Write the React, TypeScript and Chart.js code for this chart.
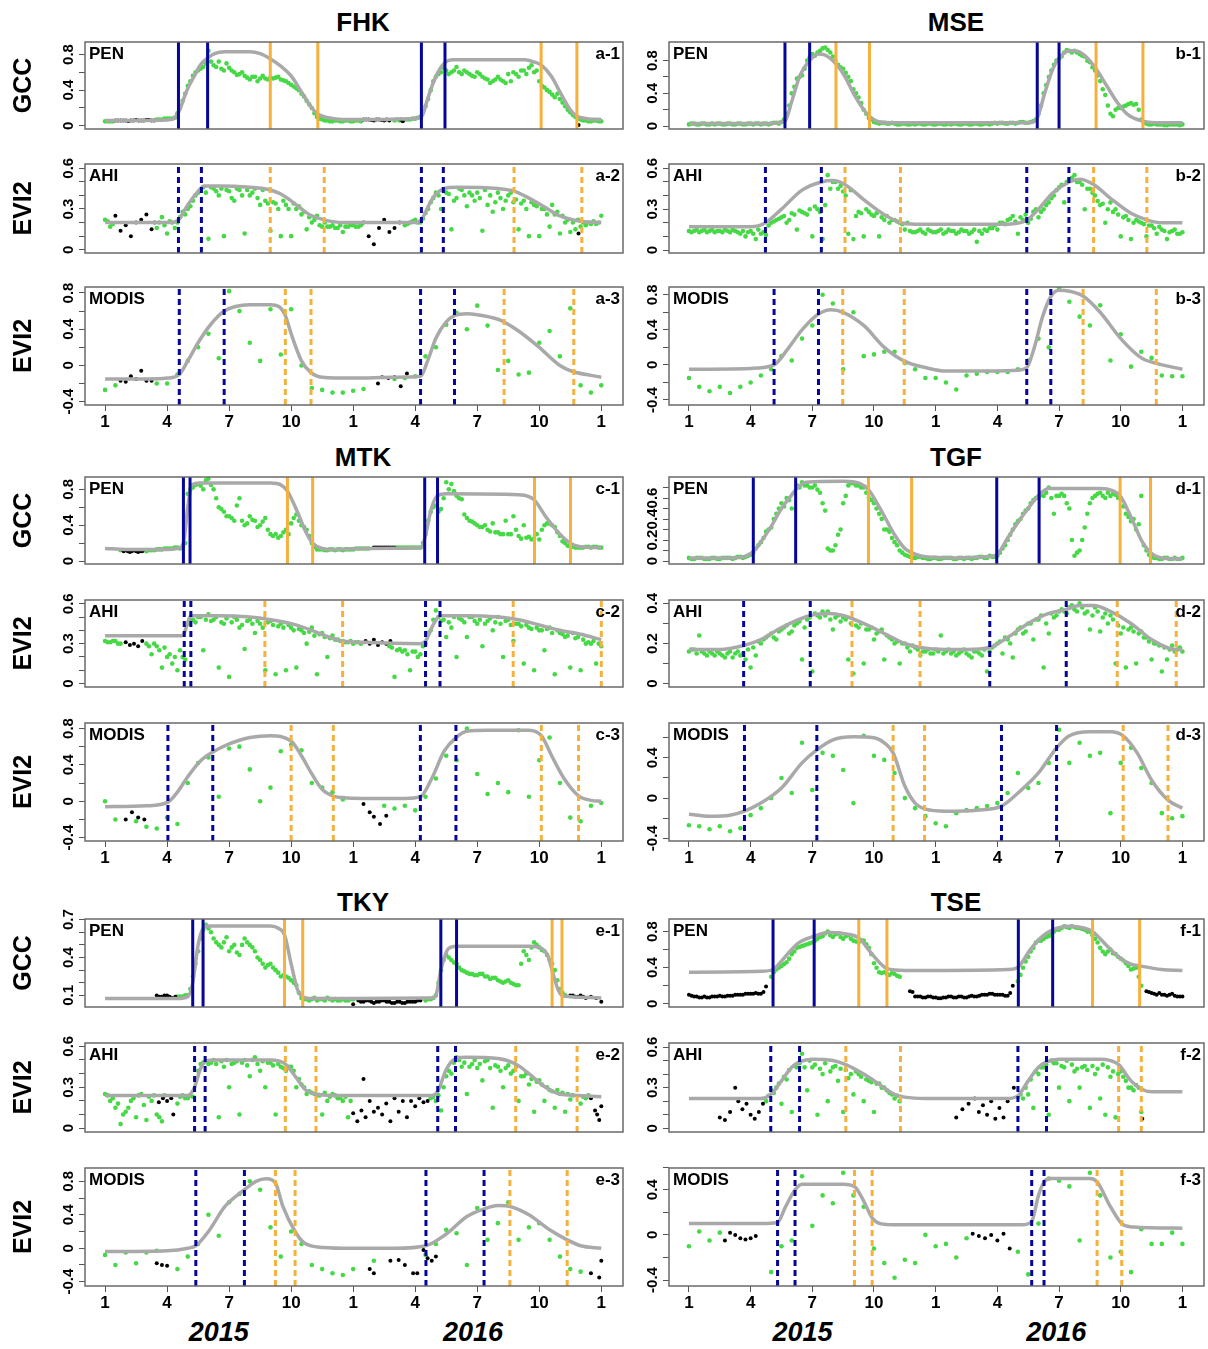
import React, { useEffect, useRef } from 'react';
import { Chart, registerables } from 'chart.js';

Chart.register(...registerables);

const FONT = '"Liberation Sans", Arial, Helvetica, sans-serif';
const GREEN = '#46d946';
const BLACK = '#000000';
const GRAY = '#a9a9a9';
const BLUE = '#06069a';
const ORANGE = '#f5b13b';

// ---------- shared axis values ----------
const X_MIN = 0.03;
const X_MAX = 26.05;
const X_TICK_VALUES = [1, 4, 7, 10, 13, 16, 19, 22, 25];
const X_TICK_LABELS = ['1', '4', '7', '10', '1', '4', '7', '10', '1'];
const YEARS = ['2015', '2016'];
const YEAR_MONTHS = [6.5, 18.8];
const GREEN_START = 1;
const STEP_DAILY = 0.25;
const STEP_MODIS = 0.5;
const MID_OFFSET = 0.125;

const GCC_TICKS = [0, 0.2, 0.4, 0.6, 0.8];
const GCC_LABELS = [0, 0.4, 0.8];
const AHI_TICKS = [0, 0.1, 0.2, 0.3, 0.4, 0.5, 0.6];
const AHI_LABELS = [0, 0.3, 0.6];
const MODIS_TICKS = [-0.4, -0.2, 0, 0.2, 0.4, 0.6, 0.8];
const MODIS_LABELS = [-0.4, 0, 0.4, 0.8];
const TGF_GCC_TICKS = [0, 0.1, 0.2, 0.3, 0.4, 0.5, 0.6, 0.7];
const TGF_GCC_LABELS = [0, 0.2, 0.4, 0.6];
const TGF_AHI_TICKS = [0, 0.1, 0.2, 0.3, 0.4];
const TGF_AHI_LABELS = [0, 0.2, 0.4];
const MODIS_SHORT_TICKS = [-0.4, -0.2, 0, 0.2, 0.4, 0.6];
const MODIS_SHORT_LABELS = [-0.4, 0, 0.4];
const TKY_GCC_TICKS = [0.1, 0.2, 0.3, 0.4, 0.5, 0.6, 0.7];
const TKY_GCC_LABELS = [0.1, 0.4, 0.7];

// ================= FHK =================
const FHK_PEN_CURVE_X = [1, 3, 4.2, 4.55, 4.8, 5.0, 5.3, 5.6, 5.96, 6.3, 6.8, 8.0, 8.5, 9.0, 9.5, 10.0, 10.5, 11.0, 11.3, 11.8, 12.5, 14, 15.8, 16.3, 16.6, 16.9, 17.2, 17.44, 17.8, 18.5, 21.3, 21.7, 22.1, 22.6, 23.0, 23.5, 23.8, 24.3, 25];
const FHK_PEN_CURVE_Y = [0.06, 0.06, 0.07, 0.15, 0.3, 0.42, 0.55, 0.68, 0.76, 0.81, 0.83, 0.83, 0.81, 0.75, 0.67, 0.56, 0.38, 0.2, 0.13, 0.09, 0.07, 0.07, 0.08, 0.1, 0.3, 0.5, 0.64, 0.71, 0.74, 0.74, 0.74, 0.72, 0.68, 0.55, 0.38, 0.18, 0.11, 0.08, 0.07];
const FHK_PEN_GREEN = [
  0.05, 0.05, null, null, null, null, null, null, null, null, 0.07, 0.07,
  0.08, 0.08, 0.14, 0.28, 0.45, 0.56, 0.62, 0.66, 0.84, 0.68, 0.72, 0.62,
  0.65, 0.6, 0.58, 0.56, 0.52, 0.55, 0.53, 0.53, 0.54, 0.54, 0.52, 0.5,
  0.46, 0.42, 0.36, 0.28, 0.2, 0.1, 0.07, 0.06, 0.05, 0.06, 0.05, 0.06,
  0.05, 0.06, null, null, null, null, null, null, 0.06, 0.06, 0.07, 0.07,
  0.08, 0.1, 0.22, 0.4, 0.55, 0.6, 0.62, 0.6, 0.66, 0.58, 0.6, 0.56,
  0.6, 0.55, 0.52, 0.5, 0.55, 0.5, 0.58, 0.6, 0.55, 0.62, 0.65, 0.6,
  0.5, 0.43, 0.38, 0.32, 0.3, 0.22, 0.15, 0.1, 0.07, 0.06, 0.05, 0.06,
  0.05];
const FHK_PEN_MID = [
  0.05, 0.05, null, null, null, null, null, null, null, null, 0.07, 0.08,
  0.08, 0.09, 0.2, 0.36, 0.5, 0.6, 0.64, 0.7, 0.72, 0.66, 0.64, 0.7,
  0.62, 0.57, 0.6, 0.54, 0.55, 0.5, 0.56, 0.52, 0.53, 0.55, 0.51, 0.48,
  0.44, 0.4, 0.33, 0.24, 0.14, 0.08, 0.06, 0.05, 0.06, 0.05, 0.06, 0.05,
  0.06, 0.05, null, null, null, null, null, null, 0.07, 0.06, 0.07, 0.08,
  0.09, 0.15, 0.3, 0.5, 0.58, 0.65, 0.58, 0.62, 0.6, 0.62, 0.58, 0.55,
  0.58, 0.53, 0.48, 0.52, 0.52, 0.48, 0.5, 0.58, 0.62, 0.58, 0.68, 0.62,
  0.45, 0.4, 0.35, 0.36, 0.26, 0.18, 0.12, 0.08, 0.06, 0.05, 0.06, 0.05];
const FHK_PEN_BLACK = [[1.5, 0.06], [1.625, 0.06], [1.75, 0.06], [1.875, 0.06], [2, 0.06], [2.125, 0.055], [2.25, 0.06], [2.375, 0.06], [2.5, 0.065], [2.625, 0.06], [2.75, 0.06], [2.875, 0.06], [3, 0.065], [3.125, 0.065], [3.25, 0.06], [3.375, 0.06], [13.5, 0.07], [13.625, 0.07], [13.75, 0.07], [13.875, 0.065], [14, 0.06], [14.125, 0.07], [14.25, 0.07], [14.375, 0.065], [14.5, 0.06], [14.625, 0.07], [14.75, 0.06], [15.3, 0.07], [15.4, 0.05], [23.9, 0.01]];
const FHK_PEN_BLUE = [4.55, 5.96, 16.3, 17.44];
const FHK_PEN_ORANGE = [8.99, 11.29, 22.09, 23.82];

const FHK_AHI_CURVE_X = [1, 4.2, 4.55, 5.0, 5.5, 5.8, 6.5, 8.0, 9.0, 9.5, 10.0, 10.5, 11.0, 11.6, 12.5, 16.0, 16.3, 16.7, 17.0, 17.4, 18.0, 20.0, 20.8, 21.5, 22.3, 23.0, 24.0, 25];
const FHK_AHI_CURVE_Y = [0.2, 0.2, 0.22, 0.33, 0.43, 0.47, 0.47, 0.46, 0.44, 0.41, 0.36, 0.3, 0.25, 0.22, 0.2, 0.2, 0.22, 0.34, 0.41, 0.45, 0.46, 0.45, 0.43, 0.38, 0.31, 0.25, 0.21, 0.2];
const FHK_AHI_GREEN = [
  0.22, 0.17, null, null, null, null, null, null, null, null, 0.16, 0.24,
  0.12, 0.2, 0.2, 0.28, 0.3, 0.36, 0.42, 0.46, 0.08, 0.45, 0.4, 0.1,
  0.43, 0.36, 0.44, 0.12, 0.4, 0.45, 0.33, 0.36, 0.14, 0.34, 0.1, 0.33,
  0.1, 0.3, 0.26, 0.15, 0.2, 0.25, 0.17, 0.17, 0.18, 0.16, 0.13, 0.17,
  0.18, 0.17, null, null, null, null, null, null, null, null, 0.18, 0.2,
  0.22, 0.2, 0.27, 0.35, 0.42, 0.3, 0.42, 0.15, 0.38, 0.44, 0.32, 0.4,
  0.42, 0.14, 0.33, 0.28, 0.42, 0.3, 0.4, 0.35, 0.15, 0.36, 0.1, 0.33,
  0.1, 0.3, 0.17, 0.26, 0.12, 0.2, 0.13, 0.15, 0.17, 0.18, 0.19, 0.19,
  0.25];
const FHK_AHI_MID = [
  0.21, 0.19, null, null, null, null, null, null, null, null, 0.2, 0.18,
  0.21, 0.16, 0.24, 0.26, 0.32, 0.4, 0.44, 0.42, 0.46, 0.43, 0.45, 0.44,
  0.38, 0.45, 0.4, 0.44, 0.42, 0.38, 0.44, 0.34, 0.35, 0.3, 0.36, 0.3,
  0.34, 0.32, 0.28, 0.24, 0.22, 0.18, 0.2, 0.17, 0.16, 0.18, 0.17, 0.18,
  0.17, 0.18, null, null, null, null, null, null, null, null, 0.19, 0.21,
  0.2, 0.23, 0.3, 0.38, 0.4, 0.44, 0.41, 0.36, 0.45, 0.4, 0.42, 0.36,
  0.38, 0.44, 0.4, 0.35, 0.38, 0.36, 0.42, 0.37, 0.34, 0.3, 0.35, 0.32,
  0.3, 0.26, 0.33, 0.28, 0.25, 0.22, 0.2, 0.22, 0.2, 0.2, 0.21, 0.2];
const FHK_AHI_BLACK = [[1.5, 0.25], [1.75, 0.14], [2, 0.18], [2.25, 0.1], [2.5, 0.2], [2.75, 0.22], [3, 0.26], [3.25, 0.15], [3.4, 0.2], [13.5, 0.2], [13.75, 0.1], [14, 0.04], [14.25, 0.16], [14.5, 0.22], [14.75, 0.13], [15, 0.16], [15.25, 0.2], [23.9, 0.12]];
const FHK_AHI_BLUE = [4.55, 5.66, 16.3, 17.36];
const FHK_AHI_ORANGE = [8.99, 11.6, 20.78, 24.06];

const FHK_MODIS_CURVE_X = [1, 3, 4.0, 4.59, 5.0, 5.5, 6.0, 6.5, 6.76, 7.3, 8.0, 9.0, 9.4, 9.72, 10.0, 10.5, 10.96, 11.5, 13, 15, 16.26, 16.6, 17.0, 17.5, 17.9, 18.5, 19, 20, 20.3, 21, 22, 23, 23.67, 24.5, 25];
const FHK_MODIS_CURVE_Y = [-0.15, -0.15, -0.14, -0.1, 0.05, 0.25, 0.42, 0.55, 0.6, 0.65, 0.67, 0.67, 0.65, 0.55, 0.35, 0.05, -0.08, -0.13, -0.14, -0.13, -0.12, 0.05, 0.3, 0.48, 0.55, 0.57, 0.56, 0.51, 0.48, 0.38, 0.2, 0.0, -0.07, -0.11, -0.13];
const FHK_MODIS_GREEN = [-0.27, -0.22, null, null, null, -0.2, -0.2, -0.1, 0.05, 0.2, 0.35, 0.08, 0.82, 0.6, 0.25, 0.05, 0.62, 0.12, 0.62, 0.0, -0.25, -0.27, -0.3, -0.3, -0.28, -0.26, null, null, -0.15, -0.14, -0.12, 0.1, 0.2, 0.45, 0.58, 0.4, 0.66, 0.44, -0.05, 0.05, -0.1, -0.08, 0.25, 0.38, 0.1, 0.63, -0.22, -0.3, -0.22];
const FHK_MODIS_BLACK = [[1.75, -0.17], [2, -0.18], [2.25, -0.12], [2.5, -0.15], [2.75, -0.06], [3, -0.17], [3.25, -0.17], [14.2, -0.2], [14.4, -0.13], [14.7, -0.14], [15, -0.13], [15.3, -0.23], [15.6, -0.09]];
const FHK_MODIS_BLUE = [4.59, 6.76, 16.26, 17.9];
const FHK_MODIS_ORANGE = [9.72, 10.96, 20.3, 23.67];

// ================= MSE =================
const MSE_PEN_CURVE_X = [1, 5.0, 5.5, 5.67, 6.0, 6.4, 6.87, 7.3, 7.6, 8.15, 8.6, 9.0, 9.5, 9.78, 10.3, 11, 17.5, 17.94, 18.3, 18.7, 19.0, 19.5, 19.8, 20.3, 20.8, 21.3, 21.8, 22.3, 23.08, 24, 25];
const MSE_PEN_CURVE_Y = [0.03, 0.03, 0.05, 0.06, 0.3, 0.62, 0.8, 0.88, 0.87, 0.76, 0.6, 0.4, 0.2, 0.12, 0.05, 0.04, 0.04, 0.1, 0.4, 0.7, 0.83, 0.92, 0.92, 0.85, 0.7, 0.5, 0.3, 0.15, 0.06, 0.04, 0.04];
const MSE_PEN_GREEN = [
  0.02, 0.03, 0.02, 0.03, 0.02, 0.02, 0.03, 0.02, 0.03, 0.02, 0.03, 0.02,
  0.03, 0.03, 0.02, 0.03, 0.03, 0.04, 0.05, 0.15, 0.4, 0.58, 0.62, 0.8,
  0.88, 0.9, 0.95, 0.93, 0.85, 0.75, 0.7, 0.6, 0.45, 0.35, 0.2, 0.1,
  0.05, 0.03, 0.04, 0.03, 0.03, 0.02, 0.03, 0.02, 0.02, 0.03, 0.02, 0.03,
  0.02, 0.03, 0.02, 0.02, 0.03, 0.02, 0.03, 0.02, 0.03, 0.02, 0.03, 0.03,
  0.03, 0.04, 0.03, 0.04, 0.04, 0.05, 0.04, 0.06, 0.15, 0.4, 0.6, 0.75,
  0.82, 0.9, 0.92, 0.92, 0.88, 0.85, 0.78, 0.68, 0.55, 0.38, 0.15, 0.2,
  0.22, 0.25, 0.28, 0.27, 0.08, 0.03, 0.02, 0.02, 0.02, 0.01, 0.02, 0.02,
  0.02];
const MSE_PEN_MID = [
  0.03, 0.02, 0.03, 0.02, 0.03, 0.03, 0.02, 0.03, 0.02, 0.03, 0.02, 0.03,
  0.02, 0.03, 0.03, 0.02, 0.04, 0.03, 0.08, 0.25, 0.48, 0.6, 0.7, 0.84,
  0.86, 0.92, 0.96, 0.9, 0.8, 0.72, 0.65, 0.55, 0.4, 0.28, 0.15, 0.08,
  0.04, 0.04, 0.03, 0.04, 0.02, 0.03, 0.02, 0.03, 0.03, 0.02, 0.03, 0.02,
  0.03, 0.02, 0.03, 0.03, 0.02, 0.03, 0.02, 0.03, 0.02, 0.03, 0.02, 0.04,
  0.04, 0.03, 0.04, 0.03, 0.05, 0.04, 0.05, 0.08, 0.25, 0.5, 0.68, 0.8,
  0.85, 0.93, 0.9, 0.9, 0.86, 0.8, 0.72, 0.62, 0.45, 0.25, 0.12, 0.22,
  0.24, 0.27, 0.26, 0.2, 0.04, 0.02, 0.03, 0.02, 0.01, 0.02, 0.02, 0.01];
const MSE_PEN_BLACK = [];
const MSE_PEN_BLUE = [5.67, 6.87, 17.94, 19.0];
const MSE_PEN_ORANGE = [8.15, 9.78, 20.8, 23.08];

const MSE_AHI_CURVE_X = [1, 4.0, 4.72, 5.5, 6.5, 7.44, 8.0, 8.6, 9.5, 10.5, 11.3, 12.0, 16.5, 17.43, 18.0, 18.7, 19.5, 20.0, 20.7, 21.5, 22.5, 23.3, 24, 25];
const MSE_AHI_CURVE_Y = [0.17, 0.17, 0.2, 0.3, 0.44, 0.5, 0.51, 0.48, 0.37, 0.26, 0.2, 0.19, 0.19, 0.22, 0.3, 0.42, 0.5, 0.52, 0.48, 0.38, 0.27, 0.22, 0.2, 0.2];
const MSE_AHI_GREEN = [
  0.14, 0.14, 0.13, 0.15, 0.14, 0.13, 0.14, 0.15, 0.13, 0.14, 0.12, 0.1,
  0.14, 0.08, 0.12, 0.11, 0.2, 0.22, 0.24, 0.2, 0.27, 0.15, 0.28, 0.26,
  0.1, 0.3, 0.08, 0.55, 0.5, 0.45, 0.43, 0.12, 0.08, 0.28, 0.1, 0.28,
  0.25, 0.1, 0.22, 0.2, 0.22, 0.2, 0.15, 0.14, 0.13, 0.15, 0.12, 0.14,
  0.13, 0.15, 0.13, 0.14, 0.12, 0.15, 0.14, 0.13, 0.06, 0.12, 0.14, 0.16,
  0.15, 0.2, 0.22, 0.25, 0.12, 0.22, 0.2, 0.28, 0.24, 0.3, 0.35, 0.4,
  0.46, 0.35, 0.52, 0.55, 0.5, 0.3, 0.45, 0.4, 0.33, 0.2, 0.35, 0.3,
  0.1, 0.25, 0.08, 0.22, 0.2, 0.1, 0.18, 0.12, 0.15, 0.08, 0.14, 0.12,
  0.13];
const MSE_AHI_MID = [
  0.13, 0.15, 0.14, 0.13, 0.15, 0.14, 0.13, 0.14, 0.15, 0.13, 0.14, 0.13,
  0.12, 0.15, 0.13, 0.18, 0.21, 0.23, 0.25, 0.22, 0.26, 0.29, 0.27, 0.3,
  0.32, 0.28, 0.33, 0.45, 0.5, 0.47, 0.4, 0.44, 0.25, 0.27, 0.3, 0.26,
  0.27, 0.24, 0.25, 0.22, 0.21, 0.19, 0.2, 0.13, 0.14, 0.13, 0.15, 0.13,
  0.14, 0.12, 0.15, 0.14, 0.13, 0.14, 0.12, 0.15, 0.14, 0.15, 0.16, 0.18,
  0.2, 0.19, 0.23, 0.21, 0.24, 0.26, 0.23, 0.3, 0.28, 0.33, 0.38, 0.44,
  0.48, 0.5, 0.53, 0.5, 0.48, 0.45, 0.42, 0.36, 0.34, 0.3, 0.28, 0.26,
  0.24, 0.22, 0.2, 0.21, 0.19, 0.18, 0.16, 0.17, 0.14, 0.13, 0.15, 0.12];
const MSE_AHI_BLACK = [];
const MSE_AHI_BLUE = [4.72, 7.44, 17.43, 19.48];
const MSE_AHI_ORANGE = [8.59, 11.29, 20.68, 23.27];

const MSE_MODIS_CURVE_X = [1, 4.0, 5.14, 5.8, 6.5, 7.3, 7.9, 8.5, 9.5, 10.5, 11.5, 12.5, 13.5, 15, 17, 17.43, 17.8, 18.2, 18.6, 19.0, 19.5, 20.2, 21.0, 22.0, 23.0, 23.7, 25];
const MSE_MODIS_CURVE_Y = [-0.05, -0.04, 0.0, 0.18, 0.4, 0.58, 0.63, 0.6, 0.45, 0.2, 0.04, -0.03, -0.07, -0.07, -0.06, -0.03, 0.2, 0.55, 0.78, 0.85, 0.84, 0.78, 0.6, 0.3, 0.08, 0.02, -0.05];
const MSE_MODIS_GREEN = [-0.15, -0.25, -0.3, -0.25, -0.32, -0.25, -0.2, -0.12, -0.05, 0.1, 0.05, 0.3, 0.45, 0.8, 0.7, -0.05, 0.6, 0.1, 0.12, 0.15, 0.15, 0.02, -0.05, -0.15, -0.15, -0.2, -0.28, -0.12, -0.1, -0.08, -0.08, -0.08, -0.05, 0.05, 0.3, 0.2, 0.88, 0.72, 0.55, 0.45, 0.68, 0.05, 0.35, -0.02, 0.15, 0.08, -0.12, -0.13, -0.13];
const MSE_MODIS_BLACK = [];
const MSE_MODIS_BLUE = [5.14, 7.3, 17.43, 18.6];
const MSE_MODIS_ORANGE = [8.48, 11.47, 20.17, 23.73];

// ================= MTK =================
const MTK_PEN_CURVE_X = [1, 2, 4.0, 4.5, 4.79, 5.0, 5.2, 5.6, 9.0, 9.5, 9.82, 10.3, 10.7, 11.04, 11.5, 12, 13.5, 16.3, 16.46, 16.8, 17.08, 17.5, 21, 21.5, 21.77, 22.3, 23.0, 23.5, 24, 25];
const MTK_PEN_CURVE_Y = [0.14, 0.13, 0.13, 0.14, 0.2, 0.6, 0.85, 0.87, 0.87, 0.85, 0.78, 0.55, 0.33, 0.2, 0.14, 0.13, 0.14, 0.15, 0.25, 0.6, 0.73, 0.75, 0.74, 0.72, 0.68, 0.5, 0.3, 0.2, 0.16, 0.15];
const MTK_PEN_GREEN = [
  null, null, null, 0.12, null, null, null, null, 0.11, 0.12, 0.13, 0.13,
  0.14, 0.14, 0.15, 0.15, 0.75, 0.82, 0.86, 0.8, 0.92, 0.8, 0.6, 0.55,
  0.5, 0.45, 0.7, 0.4, 0.5, 0.45, 0.4, 0.48, 0.3, 0.3, 0.28, 0.35,
  0.42, 0.52, 0.4, 0.35, 0.2, 0.13, 0.13, 0.12, 0.13, 0.13, 0.12, 0.13,
  0.13, 0.14, 0.14, 0.14, null, null, null, null, null, 0.15, 0.15, 0.15,
  0.15, 0.15, 0.3, 0.55, 0.62, 0.58, 0.88, 0.86, 0.73, 0.69, 0.48, 0.44,
  0.4, 0.38, 0.35, 0.42, 0.32, 0.3, 0.3, 0.5, 0.28, 0.4, 0.27, 0.25,
  0.24, 0.4, 0.42, 0.38, 0.28, 0.2, 0.16, 0.15, 0.15, 0.16, 0.15, 0.16,
  0.15];
const MTK_PEN_MID = [
  null, null, null, null, null, null, null, null, 0.12, 0.12, 0.13, 0.14,
  0.14, 0.15, 0.14, 0.2, 0.8, 0.85, 0.84, 0.9, 0.85, 0.7, 0.58, 0.5,
  0.48, 0.62, 0.45, 0.42, 0.46, 0.38, 0.44, 0.35, 0.28, 0.26, 0.32, 0.3,
  0.48, 0.45, 0.38, 0.28, 0.16, 0.13, 0.12, 0.13, 0.12, 0.13, 0.13, 0.13,
  0.14, 0.14, 0.14, null, null, null, null, null, 0.15, 0.15, 0.15, 0.15,
  0.15, 0.2, 0.45, 0.6, 0.55, 0.7, 0.8, 0.78, 0.7, 0.52, 0.45, 0.42,
  0.38, 0.4, 0.33, 0.32, 0.3, 0.45, 0.3, 0.35, 0.25, 0.26, 0.24, 0.3,
  0.35, 0.42, 0.4, 0.32, 0.22, 0.17, 0.16, 0.15, 0.15, 0.16, 0.16, 0.15];
const MTK_PEN_BLACK = [[1.9, 0.11], [2.0, 0.12], [2.1, 0.11], [2.2, 0.1], [2.3, 0.11], [2.4, 0.12], [2.5, 0.11], [2.6, 0.1], [2.7, 0.11], [2.8, 0.11], [14.0, 0.15], [14.1, 0.15], [14.2, 0.15], [14.3, 0.15], [14.4, 0.15], [14.5, 0.15], [14.6, 0.15], [14.7, 0.15], [14.8, 0.15], [14.9, 0.15], [15.0, 0.15]];
const MTK_PEN_BLUE = [4.79, 5.11, 16.46, 17.08];
const MTK_PEN_ORANGE = [9.82, 11.04, 21.77, 23.51];

const MTK_AHI_CURVE_X = [1, 4.7, 4.83, 5.0, 5.15, 6.5, 8.0, 9.0, 10.0, 11.0, 12.0, 12.5, 13.5, 16.2, 16.5, 16.9, 17.2, 18.5, 20.0, 21.0, 22.0, 23.0, 24.0, 25.0];
const MTK_AHI_CURVE_Y = [0.36, 0.36, 0.38, 0.46, 0.51, 0.51, 0.5, 0.48, 0.45, 0.4, 0.34, 0.32, 0.31, 0.3, 0.32, 0.45, 0.51, 0.51, 0.5, 0.48, 0.44, 0.4, 0.37, 0.33];
const MTK_AHI_GREEN = [
  0.32, 0.31, 0.32, 0.3, null, null, null, null, 0.3, 0.22, 0.28, 0.12,
  0.2, 0.15, 0.1, 0.2, 0.45, 0.48, 0.5, 0.25, 0.52, 0.48, 0.12, 0.45,
  0.05, 0.5, 0.42, 0.26, 0.48, 0.38, 0.45, 0.1, 0.47, 0.07, 0.45, 0.1,
  0.42, 0.12, 0.4, 0.3, 0.42, 0.07, 0.38, 0.2, 0.36, 0.33, 0.32, 0.31,
  0.3, 0.31, null, null, null, null, null, 0.28, 0.05, 0.26, 0.25, 0.1,
  0.24, 0.22, 0.3, 0.4, 0.55, 0.47, 0.35, 0.42, 0.2, 0.48, 0.35, 0.5,
  0.45, 0.28, 0.47, 0.4, 0.5, 0.2, 0.48, 0.32, 0.45, 0.15, 0.42, 0.1,
  0.4, 0.25, 0.42, 0.07, 0.38, 0.35, 0.12, 0.34, 0.1, 0.3, 0.3, 0.15,
  0.28];
const MTK_AHI_MID = [
  0.31, 0.32, 0.3, null, null, null, null, null, 0.28, 0.3, 0.25, 0.27,
  0.22, 0.2, 0.25, 0.18, 0.48, 0.46, 0.5, 0.48, 0.47, 0.5, 0.46, 0.49,
  0.46, 0.48, 0.44, 0.47, 0.45, 0.47, 0.42, 0.46, 0.44, 0.43, 0.42, 0.44,
  0.4, 0.41, 0.38, 0.39, 0.36, 0.37, 0.35, 0.34, 0.33, 0.32, 0.31, 0.32,
  0.31, 0.3, null, null, null, null, null, 0.27, 0.25, 0.24, 0.22, 0.24,
  0.2, 0.28, 0.38, 0.48, 0.5, 0.48, 0.46, 0.5, 0.49, 0.46, 0.5, 0.47,
  0.48, 0.45, 0.49, 0.46, 0.45, 0.47, 0.44, 0.45, 0.43, 0.44, 0.41, 0.42,
  0.4, 0.41, 0.38, 0.4, 0.37, 0.36, 0.38, 0.35, 0.33, 0.31, 0.32, 0.3];
const MTK_AHI_BLACK = [[2, 0.31], [2.2, 0.29], [2.4, 0.3], [2.6, 0.28], [2.8, 0.32], [13.6, 0.32], [13.8, 0.3], [14, 0.33], [14.2, 0.29], [14.4, 0.31], [14.6, 0.3], [14.8, 0.32]];
const MTK_AHI_BLUE = [4.83, 5.15, 16.5, 17.2];
const MTK_AHI_ORANGE = [8.73, 12.49, 20.74, 25.0];

const MTK_MODIS_CURVE_X = [1, 3.0, 4.04, 4.5, 5.0, 5.6, 6.21, 7.0, 7.5, 8.0, 9.0, 10.0, 10.5, 11.0, 11.5, 12.0, 12.5, 13.5, 15.5, 16.25, 16.8, 17.4, 17.97, 18.5, 19.5, 21.5, 22.1, 22.6, 23.2, 23.9, 24.5, 25];
const MTK_MODIS_CURVE_Y = [-0.06, -0.05, -0.01, 0.1, 0.27, 0.44, 0.54, 0.63, 0.67, 0.7, 0.72, 0.66, 0.5, 0.3, 0.13, 0.06, 0.04, 0.03, 0.03, 0.05, 0.25, 0.55, 0.7, 0.77, 0.78, 0.78, 0.72, 0.5, 0.25, 0.06, 0.01, 0.0];
const MTK_MODIS_GREEN = [0.0, -0.2, null, -0.22, -0.28, -0.3, -0.18, -0.25, 0.2, 0.42, 0.48, 0.05, 0.58, 0.6, 0.35, 0.0, 0.15, 0.55, 0.62, 0.56, 0.2, 0.15, 0.1, 0.02, null, null, null, -0.05, -0.08, -0.05, -0.1, 0.05, 0.25, 0.5, 0.45, 0.8, 0.3, 0.08, 0.2, 0.1, 0.78, 0.05, 0.45, 0.7, 0.2, -0.18, -0.22, -0.05, -0.02];
const MTK_MODIS_BLACK = [[2, -0.2], [2.3, -0.12], [2.6, -0.18], [2.9, -0.2], [13.5, -0.03], [13.8, -0.12], [14, -0.17], [14.3, -0.25], [14.6, -0.16]];
const MTK_MODIS_BLUE = [4.04, 6.21, 16.25, 17.97];
const MTK_MODIS_ORANGE = [10.0, 12.04, 22.1, 23.9];

// ================= TGF =================
const TGF_PEN_CURVE_X = [1, 3.0, 3.8, 4.13, 5.0, 5.5, 6.0, 6.19, 6.7, 8.5, 9.3, 9.73, 10.3, 11.0, 11.5, 11.83, 12.5, 14, 15.5, 15.97, 16.5, 17.3, 18.03, 18.5, 21.0, 21.6, 21.97, 22.5, 23.0, 23.45, 24, 25];
const TGF_PEN_CURVE_Y = [0.03, 0.03, 0.05, 0.09, 0.33, 0.5, 0.63, 0.68, 0.75, 0.76, 0.74, 0.68, 0.5, 0.25, 0.12, 0.08, 0.04, 0.03, 0.04, 0.06, 0.22, 0.45, 0.63, 0.69, 0.69, 0.67, 0.62, 0.42, 0.2, 0.08, 0.03, 0.02];
const TGF_PEN_GREEN = [
  0.03, 0.02, 0.03, 0.02, 0.02, 0.03, 0.02, 0.03, 0.03, 0.03, 0.04, 0.04,
  0.06, 0.12, 0.18, 0.28, 0.32, 0.45, 0.55, 0.6, 0.5, 0.72, 0.75, 0.72,
  0.7, 0.68, 0.55, 0.12, 0.1, 0.25, 0.55, 0.72, 0.74, 0.72, 0.7, 0.6,
  0.55, 0.45, 0.3, 0.28, 0.18, 0.1, 0.06, 0.04, 0.03, 0.04, 0.03, 0.02,
  0.03, 0.02, 0.03, 0.03, 0.02, 0.03, 0.03, 0.02, 0.03, 0.04, 0.03, 0.04,
  0.05, 0.12, 0.2, 0.3, 0.38, 0.45, 0.5, 0.58, 0.6, 0.62, 0.7, 0.45,
  0.62, 0.62, 0.5, 0.05, 0.1, 0.32, 0.55, 0.62, 0.65, 0.6, 0.62, 0.63,
  0.6, 0.45, 0.38, 0.3, 0.62, 0.1, 0.04, 0.03, 0.02, 0.03, 0.02, 0.02,
  0.03];
const TGF_PEN_MID = [
  0.02, 0.03, 0.03, 0.02, 0.03, 0.02, 0.03, 0.03, 0.02, 0.04, 0.03, 0.05,
  0.08, 0.15, 0.22, 0.3, 0.4, 0.5, 0.52, 0.58, 0.65, 0.7, 0.72, 0.7,
  0.72, 0.65, 0.48, 0.1, 0.15, 0.3, 0.62, 0.74, 0.72, 0.7, 0.65, 0.58,
  0.5, 0.4, 0.3, 0.22, 0.15, 0.08, 0.05, 0.03, 0.04, 0.03, 0.02, 0.03,
  0.02, 0.03, 0.03, 0.02, 0.03, 0.02, 0.03, 0.03, 0.04, 0.03, 0.05, 0.04,
  0.08, 0.15, 0.25, 0.35, 0.4, 0.48, 0.55, 0.6, 0.63, 0.65, 0.6, 0.62,
  0.64, 0.55, 0.2, 0.08, 0.2, 0.45, 0.6, 0.64, 0.62, 0.65, 0.64, 0.6,
  0.52, 0.42, 0.4, 0.35, 0.15, 0.06, 0.03, 0.02, 0.03, 0.02, 0.03, 0.02];
const TGF_PEN_BLACK = [];
const TGF_PEN_BLUE = [4.13, 6.19, 15.97, 18.03];
const TGF_PEN_ORANGE = [9.73, 11.83, 21.97, 23.45];

const TGF_AHI_CURVE_X = [1, 2.5, 3.66, 4.5, 5.5, 6.9, 7.8, 8.5, 9.5, 10.5, 11.5, 12.24, 13.5, 14.5, 15.63, 16.5, 17.5, 18.5, 19.35, 20.0, 20.7, 21.5, 22.5, 23.5, 24.7, 25];
const TGF_AHI_CURVE_Y = [0.17, 0.17, 0.19, 0.22, 0.28, 0.34, 0.35, 0.34, 0.3, 0.25, 0.2, 0.18, 0.17, 0.17, 0.18, 0.23, 0.3, 0.35, 0.37, 0.39, 0.39, 0.36, 0.3, 0.22, 0.17, 0.17];
const TGF_AHI_GREEN = [
  0.16, 0.17, 0.24, 0.15, 0.16, 0.14, 0.15, 0.13, 0.16, 0.15, 0.14, 0.12,
  0.08, 0.14, 0.2, 0.23, 0.25, 0.22, 0.27, 0.29, 0.26, 0.3, 0.12, 0.32,
  0.06, 0.34, 0.36, 0.36, 0.27, 0.34, 0.33, 0.12, 0.05, 0.28, 0.1, 0.27,
  0.22, 0.26, 0.12, 0.23, 0.2, 0.1, 0.2, 0.16, 0.18, 0.14, 0.16, 0.15,
  0.17, 0.24, 0.16, 0.15, 0.14, 0.16, 0.15, 0.13, 0.16, 0.14, 0.06, 0.18,
  0.2, 0.15, 0.22, 0.13, 0.27, 0.25, 0.3, 0.22, 0.32, 0.08, 0.25, 0.33,
  0.36, 0.36, 0.38, 0.37, 0.4, 0.35, 0.27, 0.38, 0.26, 0.35, 0.34, 0.1,
  0.25, 0.08, 0.28, 0.1, 0.26, 0.23, 0.12, 0.2, 0.06, 0.12, 0.19, 0.17,
  0.16];
const TGF_AHI_MID = [
  0.17, 0.15, 0.16, 0.14, 0.15, 0.16, 0.14, 0.15, 0.13, 0.16, 0.15, 0.17,
  0.18, 0.21, 0.22, 0.24, 0.23, 0.26, 0.28, 0.25, 0.29, 0.31, 0.28, 0.33,
  0.35, 0.33, 0.34, 0.32, 0.33, 0.31, 0.32, 0.3, 0.29, 0.3, 0.27, 0.28,
  0.25, 0.27, 0.24, 0.22, 0.21, 0.2, 0.18, 0.19, 0.17, 0.16, 0.17, 0.15,
  0.16, 0.15, 0.17, 0.16, 0.15, 0.17, 0.14, 0.16, 0.15, 0.17, 0.16, 0.19,
  0.21, 0.23, 0.2, 0.25, 0.28, 0.26, 0.3, 0.32, 0.34, 0.3, 0.35, 0.34,
  0.37, 0.35, 0.39, 0.36, 0.38, 0.36, 0.34, 0.36, 0.33, 0.3, 0.32, 0.29,
  0.28, 0.27, 0.26, 0.25, 0.23, 0.21, 0.2, 0.19, 0.18, 0.17, 0.16, 0.18];
const TGF_AHI_BLACK = [];
const TGF_AHI_BLUE = [3.66, 6.9, 15.63, 19.35];
const TGF_AHI_ORANGE = [8.93, 12.24, 21.83, 24.7];

const TGF_MODIS_CURVE_X = [1, 2.0, 3.0, 3.7, 4.5, 5.5, 6.5, 7.22, 8.0, 9.0, 10.0, 10.5, 10.93, 11.5, 12.0, 12.5, 13.5, 15, 16.2, 17.0, 18.0, 18.88, 19.5, 20.5, 21.5, 22.12, 22.8, 23.5, 24.3, 25];
const TGF_MODIS_CURVE_Y = [-0.16, -0.18, -0.17, -0.13, -0.05, 0.1, 0.35, 0.48, 0.58, 0.61, 0.6, 0.55, 0.45, 0.12, -0.05, -0.11, -0.13, -0.12, -0.08, 0.05, 0.25, 0.5, 0.62, 0.66, 0.66, 0.62, 0.45, 0.18, -0.02, -0.1];
const TGF_MODIS_GREEN = [-0.27, -0.28, -0.31, -0.28, -0.33, -0.3, -0.17, -0.1, 0.0, 0.2, 0.05, 0.55, 0.08, 0.45, 0.42, 0.28, -0.05, 0.62, 0.42, 0.38, 0.25, 0.0, -0.1, -0.18, -0.25, -0.28, -0.15, -0.12, -0.1, -0.08, -0.05, 0.05, 0.25, 0.1, 0.15, 0.35, 0.68, 0.35, 0.55, 0.42, 0.45, -0.15, 0.35, 0.5, 0.3, 0.15, -0.15, -0.2, -0.18];
const TGF_MODIS_BLACK = [];
const TGF_MODIS_BLUE = [3.7, 7.22, 16.2, 18.88];
const TGF_MODIS_ORANGE = [10.93, 12.46, 22.12, 24.3];

// ================= TKY =================
const TKY_PEN_CURVE_X = [1, 4.5, 5.0, 5.24, 5.5, 5.74, 6.0, 9.0, 9.4, 9.68, 10.0, 10.3, 10.56, 11.0, 13, 16.8, 17.0, 17.24, 17.6, 18.0, 21.5, 22.0, 22.4, 22.62, 22.9, 23.1, 23.5, 25];
const TKY_PEN_CURVE_Y = [0.075, 0.075, 0.09, 0.2, 0.5, 0.63, 0.65, 0.65, 0.63, 0.58, 0.35, 0.15, 0.09, 0.075, 0.076, 0.08, 0.1, 0.3, 0.47, 0.49, 0.49, 0.48, 0.42, 0.3, 0.15, 0.1, 0.09, 0.08];
const TKY_PEN_GREEN = [
  null, null, null, null, null, null, null, null, null, null, null, null,
  null, null, 0.09, 0.09, 0.1, 0.25, 0.45, 0.62, 0.63, 0.55, 0.5, 0.52,
  0.45, 0.5, 0.42, 0.55, 0.5, 0.45, 0.38, 0.32, 0.35, 0.3, 0.25, 0.25,
  0.22, 0.18, 0.08, 0.07, 0.07, 0.06, 0.07, 0.08, 0.06, 0.06, 0.07, 0.06,
  0.07, null, null, null, null, null, null, null, null, null, null, null,
  null, null, 0.06, 0.07, 0.1, 0.3, 0.42, 0.38, 0.35, 0.3, 0.28, 0.27,
  0.26, 0.27, 0.25, 0.24, 0.22, 0.2, 0.22, 0.19, 0.18, 0.45, 0.38, 0.52,
  0.48, 0.45, 0.38, 0.3, 0.15, 0.1, null, null, null, null, null, null,
  null];
const TKY_PEN_MID = [
  null, null, null, null, null, null, null, null, null, null, null, null,
  null, null, 0.09, 0.1, 0.15, 0.35, 0.55, 0.66, 0.6, 0.52, 0.48, 0.56,
  0.48, 0.44, 0.5, 0.52, 0.48, 0.4, 0.35, 0.34, 0.32, 0.28, 0.26, 0.24,
  0.2, 0.12, 0.07, 0.06, 0.08, 0.07, 0.06, 0.07, 0.07, 0.06, 0.06, 0.07,
  null, null, null, null, null, null, null, null, null, null, null, null,
  null, null, 0.07, 0.08, 0.2, 0.38, 0.4, 0.36, 0.32, 0.29, 0.27, 0.26,
  0.27, 0.25, 0.23, 0.24, 0.21, 0.21, 0.2, 0.18, 0.35, 0.42, 0.48, 0.5,
  0.46, 0.42, 0.35, 0.22, 0.12, null, null, null, null, null, null, null];
const TKY_PEN_BLACK = [[3.5, 0.1], [3.625, 0.09], [3.75, 0.09], [3.875, 0.1], [4.0, 0.1], [4.125, 0.09], [4.25, 0.08], [4.4, 0.09], [13.0, 0.03], [13.25, 0.06], [13.375, 0.05], [13.5, 0.05], [13.625, 0.06], [13.75, 0.06], [13.875, 0.05], [14.0, 0.04], [14.125, 0.05], [14.25, 0.05], [14.375, 0.06], [14.5, 0.06], [14.625, 0.05], [14.75, 0.05], [14.875, 0.04], [15.0, 0.04], [15.125, 0.05], [15.25, 0.05], [15.375, 0.04], [15.5, 0.04], [15.625, 0.05], [15.75, 0.05], [15.875, 0.05], [16.0, 0.05], [16.125, 0.06], [16.25, 0.06], [23.5, 0.1], [23.625, 0.1], [23.75, 0.09], [23.875, 0.09], [24.0, 0.1], [24.125, 0.09], [24.25, 0.08], [24.5, 0.09], [24.75, 0.08], [25.0, 0.05]];
const TKY_PEN_BLUE = [5.24, 5.74, 17.24, 18.0];
const TKY_PEN_ORANGE = [9.68, 10.56, 22.62, 23.1];

const TKY_AHI_CURVE_X = [1, 5.0, 5.33, 5.6, 5.84, 6.2, 9.0, 9.72, 10.2, 10.7, 11.2, 12, 16.8, 17.09, 17.5, 17.95, 18.5, 20.0, 20.86, 21.5, 22.3, 23.0, 23.83, 25];
const TKY_AHI_CURVE_Y = [0.24, 0.24, 0.3, 0.43, 0.49, 0.5, 0.5, 0.47, 0.38, 0.28, 0.25, 0.24, 0.24, 0.27, 0.43, 0.51, 0.52, 0.51, 0.47, 0.4, 0.3, 0.25, 0.24, 0.23];
const TKY_AHI_GREEN = [
  0.25, 0.2, 0.15, 0.03, 0.12, 0.2, 0.08, 0.25, 0.06, 0.2, 0.1, 0.05,
  null, null, 0.18, 0.24, 0.22, 0.23, 0.42, 0.48, 0.47, 0.5, 0.08, 0.45,
  0.3, 0.48, 0.1, 0.5, 0.38, 0.52, 0.42, 0.3, 0.48, 0.1, 0.45, 0.42,
  0.45, 0.3, 0.32, 0.25, 0.26, 0.24, 0.1, 0.2, 0.25, 0.22, 0.2, 0.08,
  null, null, null, null, null, null, null, null, null, null, null, null,
  null, null, null, 0.22, 0.2, 0.13, 0.38, 0.4, 0.52, 0.45, 0.25, 0.47,
  0.44, 0.35, 0.5, 0.15, 0.45, 0.3, 0.46, 0.42, 0.2, 0.38, 0.32, 0.12,
  0.35, 0.2, 0.28, 0.15, 0.25, 0.12, 0.21, null, 0.18, 0.22, null, null,
  null];
const TKY_AHI_MID = [
  0.24, 0.22, 0.18, 0.1, 0.15, 0.22, 0.24, 0.17, 0.23, 0.24, 0.08, 0.24,
  null, null, 0.23, 0.22, 0.24, 0.35, 0.47, 0.49, 0.48, 0.47, 0.49, 0.5,
  0.47, 0.49, 0.48, 0.46, 0.5, 0.47, 0.49, 0.48, 0.46, 0.47, 0.44, 0.45,
  0.42, 0.36, 0.3, 0.27, 0.25, 0.24, 0.26, 0.23, 0.24, 0.22, 0.23, 0.2,
  null, null, null, null, null, null, null, null, null, null, null, null,
  null, null, null, 0.23, 0.24, 0.3, 0.42, 0.48, 0.5, 0.48, 0.45, 0.5,
  0.47, 0.49, 0.44, 0.46, 0.42, 0.44, 0.4, 0.45, 0.38, 0.4, 0.36, 0.34,
  0.32, 0.3, 0.27, 0.28, 0.26, 0.25, 0.24, null, 0.23, 0.24, null, null];
const TKY_AHI_BLACK = [[3.6, 0.19], [3.8, 0.22], [4.0, 0.2], [4.2, 0.22], [4.3, 0.1], [13.0, 0.11], [13.2, 0.05], [13.4, 0.13], [13.5, 0.36], [13.6, 0.08], [13.8, 0.2], [14.0, 0.12], [14.2, 0.15], [14.4, 0.1], [14.6, 0.18], [14.8, 0.05], [15.0, 0.22], [15.2, 0.12], [15.4, 0.2], [15.6, 0.08], [15.8, 0.2], [16.0, 0.16], [16.2, 0.22], [16.4, 0.19], [16.6, 0.2], [24.5, 0.22], [24.7, 0.13], [24.8, 0.1], [24.9, 0.06], [25.0, 0.16]];
const TKY_AHI_BLUE = [5.33, 5.84, 17.09, 17.95];
const TKY_AHI_ORANGE = [9.72, 11.2, 20.86, 23.83];

const TKY_MODIS_CURVE_X = [1, 4.0, 5.0, 5.39, 6.0, 6.8, 7.74, 8.3, 8.8, 9.24, 9.6, 10.19, 10.6, 11.5, 13, 15, 16.52, 17.5, 18.5, 19.33, 20.0, 20.58, 21.5, 22.5, 23.35, 24.0, 25];
const TKY_MODIS_CURVE_Y = [-0.04, -0.03, 0.0, 0.03, 0.2, 0.5, 0.7, 0.8, 0.83, 0.78, 0.5, 0.2, 0.07, 0.01, 0.0, 0.0, 0.03, 0.17, 0.38, 0.47, 0.51, 0.5, 0.4, 0.22, 0.1, 0.03, 0.0];
const TKY_MODIS_GREEN = [-0.08, -0.2, -0.05, -0.18, -0.05, -0.03, null, -0.25, -0.1, 0.05, 0.4, 0.15, 0.55, 0.65, 0.8, 0.7, 0.25, -0.1, 0.2, 0.05, -0.2, -0.25, -0.3, -0.32, -0.25, null, -0.15, null, null, null, null, -0.08, 0.05, 0.22, 0.18, -0.2, 0.48, 0.1, 0.3, 0.55, 0.1, 0.25, 0.3, 0.1, -0.1, -0.25, -0.28, null, null];
const TKY_MODIS_BLACK = [[3.5, -0.18], [3.75, -0.2], [4.0, -0.21], [13.8, -0.25], [14.0, -0.3], [14.8, -0.15], [15.2, -0.14], [15.5, -0.2], [15.9, -0.3], [16.1, -0.3], [16.4, -0.02], [16.6, -0.12], [16.8, -0.15], [17.0, -0.1], [24.5, -0.3], [24.9, -0.35], [25.0, -0.15]];
const TKY_MODIS_BLUE = [5.39, 7.74, 16.52, 19.33];
const TKY_MODIS_ORANGE = [9.24, 10.19, 20.58, 23.35];

// ================= TSE =================
const TSE_PEN_CURVE_X = [1, 4.5, 5.09, 5.6, 6.3, 7.09, 7.8, 8.5, 9.26, 9.8, 10.3, 10.63, 11.5, 13, 16.5, 17.02, 17.6, 18.2, 18.69, 19.5, 20.2, 20.63, 21.3, 22.0, 22.5, 22.92, 24, 25];
const TSE_PEN_CURVE_Y = [0.35, 0.36, 0.38, 0.5, 0.67, 0.75, 0.79, 0.78, 0.73, 0.58, 0.45, 0.39, 0.37, 0.37, 0.38, 0.41, 0.6, 0.75, 0.82, 0.86, 0.84, 0.8, 0.65, 0.5, 0.44, 0.42, 0.38, 0.37];
const TSE_PEN_GREEN = [
  null, null, null, null, null, null, null, null, null, null, null, null,
  null, null, null, null, 0.3, 0.38, 0.42, 0.46, 0.55, 0.62, 0.64, 0.66,
  0.68, 0.72, 0.75, 0.8, 0.74, 0.78, 0.72, 0.76, 0.7, 0.68, 0.7, 0.62,
  0.45, 0.35, 0.35, 0.32, 0.33, 0.3, null, null, null, null, null, null,
  null, null, null, null, null, null, null, null, null, null, null, null,
  null, null, null, null, 0.25, 0.4, 0.52, 0.62, 0.7, 0.72, 0.75, 0.8,
  0.82, 0.86, 0.84, 0.85, 0.84, 0.82, 0.8, 0.72, 0.62, 0.55, 0.6, 0.55,
  0.5, 0.45, 0.38, 0.4, 0.2, null, null, null, null, null, null, null,
  null];
const TSE_PEN_MID = [
  null, null, null, null, null, null, null, null, null, null, null, null,
  null, null, null, null, 0.35, 0.4, 0.44, 0.5, 0.58, 0.63, 0.65, 0.67,
  0.7, 0.74, 0.78, 0.76, 0.77, 0.74, 0.75, 0.72, 0.69, 0.7, 0.66, 0.55,
  0.4, 0.34, 0.33, 0.34, 0.31, null, null, null, null, null, null, null,
  null, null, null, null, null, null, null, null, null, null, null, null,
  null, null, null, null, 0.32, 0.47, 0.58, 0.68, 0.7, 0.74, 0.78, 0.82,
  0.84, 0.85, 0.86, 0.84, 0.83, 0.8, 0.76, 0.68, 0.58, 0.58, 0.56, 0.52,
  0.48, 0.42, 0.39, 0.3, null, null, null, null, null, null, null, null];
const TSE_PEN_BLACK = [[1, 0.1], [1.125, 0.09], [1.25, 0.08], [1.375, 0.08], [1.5, 0.07], [1.625, 0.07], [1.75, 0.08], [1.875, 0.07], [2, 0.07], [2.125, 0.08], [2.25, 0.08], [2.375, 0.08], [2.5, 0.09], [2.625, 0.08], [2.75, 0.08], [2.875, 0.09], [3, 0.09], [3.125, 0.09], [3.25, 0.1], [3.375, 0.1], [3.5, 0.1], [3.625, 0.1], [3.75, 0.11], [3.875, 0.11], [4, 0.11], [4.125, 0.11], [4.25, 0.12], [4.375, 0.11], [4.5, 0.11], [4.625, 0.13], [4.75, 0.19], [11.75, 0.14], [11.875, 0.13], [12, 0.08], [12.125, 0.08], [12.25, 0.08], [12.375, 0.07], [12.5, 0.07], [12.625, 0.08], [12.75, 0.08], [12.875, 0.07], [13, 0.07], [13.125, 0.06], [13.25, 0.06], [13.375, 0.07], [13.5, 0.07], [13.625, 0.08], [13.75, 0.08], [13.875, 0.07], [14, 0.07], [14.125, 0.08], [14.25, 0.08], [14.375, 0.07], [14.5, 0.07], [14.625, 0.08], [14.75, 0.09], [14.875, 0.08], [15, 0.08], [15.125, 0.09], [15.25, 0.1], [15.375, 0.1], [15.5, 0.1], [15.625, 0.11], [15.75, 0.11], [15.875, 0.1], [16, 0.1], [16.125, 0.1], [16.25, 0.1], [16.375, 0.09], [16.5, 0.09], [16.625, 0.12], [16.75, 0.2], [23.25, 0.14], [23.375, 0.13], [23.5, 0.12], [23.625, 0.11], [23.75, 0.1], [23.875, 0.12], [24, 0.1], [24.125, 0.1], [24.25, 0.09], [24.375, 0.1], [24.5, 0.11], [24.625, 0.09], [24.75, 0.08], [24.875, 0.08], [25, 0.08]];
const TSE_PEN_BLUE = [5.09, 7.09, 17.02, 18.69];
const TSE_PEN_ORANGE = [9.26, 10.63, 20.63, 22.92];

const TSE_AHI_CURVE_X = [1, 4.5, 4.98, 5.5, 6.0, 6.38, 7.0, 8.0, 8.63, 9.5, 10.3, 11.0, 11.5, 12.5, 16.5, 17.0, 17.5, 18.0, 18.39, 19.0, 21.0, 21.5, 21.9, 22.5, 23.0, 23.5, 25];
const TSE_AHI_CURVE_Y = [0.22, 0.22, 0.25, 0.35, 0.45, 0.49, 0.51, 0.5, 0.47, 0.4, 0.32, 0.25, 0.23, 0.22, 0.22, 0.24, 0.35, 0.45, 0.49, 0.51, 0.51, 0.5, 0.47, 0.35, 0.29, 0.27, 0.27];
const TSE_AHI_GREEN = [
  null, null, null, null, null, null, null, null, null, null, null, null,
  null, null, null, 0.2, 0.28, 0.3, 0.18, 0.36, 0.12, 0.45, 0.55, 0.28,
  0.45, 0.1, 0.4, 0.2, 0.45, 0.35, 0.12, 0.37, 0.25, 0.4, 0.2, 0.35,
  0.12, 0.33, 0.3, 0.26, 0.22, 0.2, null, null, null, null, null, null,
  null, null, null, null, null, null, null, null, null, null, null, null,
  null, null, null, null, 0.23, 0.22, 0.25, 0.15, 0.4, 0.45, 0.1, 0.48,
  0.3, 0.45, 0.2, 0.42, 0.3, 0.46, 0.15, 0.4, 0.22, 0.1, 0.38, 0.08,
  0.42, 0.35, 0.3, 0.32, 0.12, null, null, null, null, null, null, null,
  null];
const TSE_AHI_MID = [
  null, null, null, null, null, null, null, null, null, null, null, null,
  null, null, null, 0.24, 0.26, 0.33, 0.38, 0.43, 0.46, 0.48, 0.45, 0.5,
  0.47, 0.44, 0.48, 0.42, 0.46, 0.44, 0.43, 0.4, 0.42, 0.38, 0.36, 0.34,
  0.33, 0.3, 0.28, 0.25, 0.24, null, null, null, null, null, null, null,
  null, null, null, null, null, null, null, null, null, null, null, null,
  null, null, null, null, 0.25, 0.3, 0.36, 0.42, 0.45, 0.47, 0.5, 0.48,
  0.46, 0.5, 0.47, 0.44, 0.45, 0.43, 0.46, 0.44, 0.47, 0.45, 0.42, 0.4,
  0.38, 0.3, 0.28, 0.3, null, null, null, null, null, null, null, null];
const TSE_AHI_BLACK = [[2.5, 0.08], [2.75, 0.06], [3, 0.12], [3.25, 0.3], [3.4, 0.2], [3.6, 0.14], [3.8, 0.18], [4, 0.1], [4.2, 0.07], [4.4, 0.12], [4.6, 0.18], [14, 0.08], [14.3, 0.14], [14.6, 0.18], [14.9, 0.22], [15.1, 0.12], [15.3, 0.17], [15.5, 0.1], [15.7, 0.2], [15.9, 0.07], [16.1, 0.15], [16.3, 0.08], [16.5, 0.2], [16.8, 0.3], [23.05, 0.07]];
const TSE_AHI_BLUE = [4.98, 6.38, 17.0, 18.39];
const TSE_AHI_ORANGE = [8.63, 11.29, 21.9, 23.0];

const TSE_MODIS_CURVE_X = [1, 4.5, 5.31, 5.7, 6.16, 6.5, 8.5, 9.05, 9.5, 9.91, 10.3, 11, 17.2, 17.67, 18.0, 18.27, 18.6, 20.5, 20.85, 21.5, 22.05, 22.6, 25];
const TSE_MODIS_CURVE_Y = [0.1, 0.1, 0.11, 0.25, 0.4, 0.45, 0.45, 0.43, 0.3, 0.15, 0.1, 0.09, 0.09, 0.12, 0.35, 0.47, 0.5, 0.5, 0.47, 0.25, 0.1, 0.07, 0.06];
const TSE_MODIS_GREEN = [-0.1, 0.03, -0.05, 0.02, null, null, null, null, -0.33, -0.1, -0.05, 0.52, 0.08, 0.35, 0.28, 0.55, 0.35, 0.25, -0.12, -0.25, -0.38, -0.22, -0.25, 0.0, -0.1, -0.08, -0.2, -0.03, null, null, null, null, -0.15, -0.35, 0.1, 0.5, 0.48, 0.43, -0.05, 0.55, 0.35, -0.2, -0.15, -0.33, 0.05, -0.08, -0.08, 0.02, -0.08];
const TSE_MODIS_BLACK = [[2.75, -0.05], [3, 0.02], [3.25, 0], [3.5, -0.03], [3.75, -0.04], [4, -0.03], [4.25, -0.01], [14.8, 0.01], [15.1, -0.01], [15.4, -0.03], [15.7, 0], [16.0, -0.05], [16.3, 0.01], [16.6, -0.12]];
const TSE_MODIS_BLUE = [5.31, 6.16, 17.67, 18.27];
const TSE_MODIS_ORANGE = [9.05, 9.91, 20.85, 22.05];

// ---------- assembly ----------
const mk = (sensor, curveX, curveY, green, mid, black, blue, orange, yMin, yMax, yTicks, yLabels) => ({
  sensor, curveX, curveY, green, mid, black, blue, orange, yMin, yMax, yTicks, yLabels,
  greenStep: sensor === 'MODIS' ? STEP_MODIS : STEP_DAILY,
});
const NONE = [];

const SITES = [
  {
    name: 'FHK', letter: 'a', col: 0, row: 0, panels: [
      mk('PEN', FHK_PEN_CURVE_X, FHK_PEN_CURVE_Y, FHK_PEN_GREEN, FHK_PEN_MID, FHK_PEN_BLACK, FHK_PEN_BLUE, FHK_PEN_ORANGE, -0.036, 0.94, GCC_TICKS, GCC_LABELS),
      mk('AHI', FHK_AHI_CURVE_X, FHK_AHI_CURVE_Y, FHK_AHI_GREEN, FHK_AHI_MID, FHK_AHI_BLACK, FHK_AHI_BLUE, FHK_AHI_ORANGE, -0.024, 0.631, AHI_TICKS, AHI_LABELS),
      mk('MODIS', FHK_MODIS_CURVE_X, FHK_MODIS_CURVE_Y, FHK_MODIS_GREEN, NONE, FHK_MODIS_BLACK, FHK_MODIS_BLUE, FHK_MODIS_ORANGE, -0.437, 0.866, MODIS_TICKS, MODIS_LABELS),
    ],
  },
  {
    name: 'MSE', letter: 'b', col: 1, row: 0, panels: [
      mk('PEN', MSE_PEN_CURVE_X, MSE_PEN_CURVE_Y, MSE_PEN_GREEN, MSE_PEN_MID, MSE_PEN_BLACK, MSE_PEN_BLUE, MSE_PEN_ORANGE, -0.036, 1.028, GCC_TICKS, GCC_LABELS),
      mk('AHI', MSE_AHI_CURVE_X, MSE_AHI_CURVE_Y, MSE_AHI_GREEN, MSE_AHI_MID, MSE_AHI_BLACK, MSE_AHI_BLUE, MSE_AHI_ORANGE, -0.022, 0.632, AHI_TICKS, AHI_LABELS),
      mk('MODIS', MSE_MODIS_CURVE_X, MSE_MODIS_CURVE_Y, MSE_MODIS_GREEN, NONE, MSE_MODIS_BLACK, MSE_MODIS_BLUE, MSE_MODIS_ORANGE, -0.457, 0.888, MODIS_TICKS, MODIS_LABELS),
    ],
  },
  {
    name: 'MTK', letter: 'c', col: 0, row: 1, panels: [
      mk('PEN', MTK_PEN_CURVE_X, MTK_PEN_CURVE_Y, MTK_PEN_GREEN, MTK_PEN_MID, MTK_PEN_BLACK, MTK_PEN_BLUE, MTK_PEN_ORANGE, -0.033, 0.938, GCC_TICKS, GCC_LABELS),
      mk('AHI', MTK_AHI_CURVE_X, MTK_AHI_CURVE_Y, MTK_AHI_GREEN, MTK_AHI_MID, MTK_AHI_BLACK, MTK_AHI_BLUE, MTK_AHI_ORANGE, -0.026, 0.628, AHI_TICKS, AHI_LABELS),
      mk('MODIS', MTK_MODIS_CURVE_X, MTK_MODIS_CURVE_Y, MTK_MODIS_GREEN, NONE, MTK_MODIS_BLACK, MTK_MODIS_BLUE, MTK_MODIS_ORANGE, -0.437, 0.86, MODIS_TICKS, MODIS_LABELS),
    ],
  },
  {
    name: 'TGF', letter: 'd', col: 1, row: 1, panels: [
      mk('PEN', TGF_PEN_CURVE_X, TGF_PEN_CURVE_Y, TGF_PEN_GREEN, TGF_PEN_MID, TGF_PEN_BLACK, TGF_PEN_BLUE, TGF_PEN_ORANGE, -0.028, 0.8, TGF_GCC_TICKS, TGF_GCC_LABELS),
      mk('AHI', TGF_AHI_CURVE_X, TGF_AHI_CURVE_Y, TGF_AHI_GREEN, TGF_AHI_MID, TGF_AHI_BLACK, TGF_AHI_BLUE, TGF_AHI_ORANGE, -0.017, 0.417, TGF_AHI_TICKS, TGF_AHI_LABELS),
      mk('MODIS', TGF_MODIS_CURVE_X, TGF_MODIS_CURVE_Y, TGF_MODIS_GREEN, NONE, TGF_MODIS_BLACK, TGF_MODIS_BLUE, TGF_MODIS_ORANGE, -0.427, 0.747, MODIS_SHORT_TICKS, MODIS_SHORT_LABELS),
    ],
  },
  {
    name: 'TKY', letter: 'e', col: 0, row: 2, panels: [
      mk('PEN', TKY_PEN_CURVE_X, TKY_PEN_CURVE_Y, TKY_PEN_GREEN, TKY_PEN_MID, TKY_PEN_BLACK, TKY_PEN_BLUE, TKY_PEN_ORANGE, 0.008, 0.705, TKY_GCC_TICKS, TKY_GCC_LABELS),
      mk('AHI', TKY_AHI_CURVE_X, TKY_AHI_CURVE_Y, TKY_AHI_GREEN, TKY_AHI_MID, TKY_AHI_BLACK, TKY_AHI_BLUE, TKY_AHI_ORANGE, -0.028, 0.624, AHI_TICKS, AHI_LABELS),
      mk('MODIS', TKY_MODIS_CURVE_X, TKY_MODIS_CURVE_Y, TKY_MODIS_GREEN, NONE, TKY_MODIS_BLACK, TKY_MODIS_BLUE, TKY_MODIS_ORANGE, -0.452, 0.96, MODIS_TICKS, MODIS_LABELS),
    ],
  },
  {
    name: 'TSE', letter: 'f', col: 1, row: 2, panels: [
      mk('PEN', TSE_PEN_CURVE_X, TSE_PEN_CURVE_Y, TSE_PEN_GREEN, TSE_PEN_MID, TSE_PEN_BLACK, TSE_PEN_BLUE, TSE_PEN_ORANGE, -0.036, 0.94, GCC_TICKS, GCC_LABELS),
      mk('AHI', TSE_AHI_CURVE_X, TSE_AHI_CURVE_Y, TSE_AHI_GREEN, TSE_AHI_MID, TSE_AHI_BLACK, TSE_AHI_BLUE, TSE_AHI_ORANGE, -0.028, 0.63, AHI_TICKS, AHI_LABELS),
      mk('MODIS', TSE_MODIS_CURVE_X, TSE_MODIS_CURVE_Y, TSE_MODIS_GREEN, NONE, TSE_MODIS_BLACK, TSE_MODIS_BLUE, TSE_MODIS_ORANGE, -0.453, 0.593, MODIS_SHORT_TICKS, MODIS_SHORT_LABELS),
    ],
  },
];

// ---------- layout ----------
const COLS = [
  { canvasLeft: 0, canvasWidth: 632, boxLeft: 85, boxRight: 623, titleX: 363 },
  { canvasLeft: 612, canvasWidth: 596, boxLeft: 669, boxRight: 1206, titleX: 956 },
];
const ROWS = [
  { titleY: 22, boxes: [[42, 159], [164, 283], [287, 405]] },
  { titleY: 457, boxes: [[477, 594], [600, 717], [723, 841]] },
  { titleY: 902, boxes: [[919, 1037], [1043, 1162], [1168, 1286]] },
];
const YEAR_Y = 1332;
const PAD = 14;
const XAXIS_H = 30;

const panelDecor = {
  id: 'panelDecor',
  afterDraw(chart, _args, opts) {
    const { ctx, chartArea: a } = chart;
    const ys = chart.scales.y;
    ctx.save();
    ctx.strokeStyle = '#6a6a6a';
    ctx.lineWidth = 1.5;
    ctx.strokeRect(a.left, a.top, a.right - a.left, a.bottom - a.top);
    ctx.fillStyle = '#000';
    ctx.font = `bold 17px ${FONT}`;
    ctx.textBaseline = 'top';
    ctx.textAlign = 'left';
    ctx.fillText(opts.sensor, a.left + 4, a.top + 4);
    ctx.textAlign = 'right';
    ctx.fillText(opts.tag, a.right - 3, a.top + 4);
    ctx.font = `bold 15px ${FONT}`;
    ctx.textAlign = 'center';
    ctx.textBaseline = 'middle';
    for (const v of opts.yLabels) {
      const y = ys.getPixelForValue(v);
      ctx.save();
      ctx.translate(a.left - 16, y);
      ctx.rotate(-Math.PI / 2);
      ctx.fillText(String(v), 0, 0);
      ctx.restore();
    }
    ctx.restore();
  },
};

function PanelChart({ panel, tag, col, box, bottom, yTitle }) {
  const ref = useRef(null);
  const c = COLS[col];
  const top = box[0] - PAD;
  const height = box[1] - box[0] + PAD + (bottom ? XAXIS_H : PAD);

  useEffect(() => {
    const canvas = ref.current;
    if (!canvas) return;
    const dashed = panel.sensor !== 'PEN';
    const vline = (xs) => xs.flatMap((x) => [{ x, y: panel.yMin }, { x, y: panel.yMax }, { x, y: null }]);
    const toPts = (arr, start) => arr
      .map((y, i) => (y == null ? null : { x: start + i * panel.greenStep, y }))
      .filter(Boolean);
    const green = toPts(panel.green, GREEN_START).concat(toPts(panel.mid, GREEN_START + MID_OFFSET));
    const black = panel.black.map(([x, y]) => ({ x, y }));
    const curve = panel.curveX.map((x, i) => ({ x, y: panel.curveY[i] }));

    const chart = new Chart(canvas, {
      type: 'scatter',
      data: {
        datasets: [
          { type: 'line', data: vline(panel.blue), borderColor: BLUE, borderWidth: 3, borderDash: dashed ? [6, 4] : [], pointRadius: 0, spanGaps: false, order: 0 },
          { type: 'line', data: vline(panel.orange), borderColor: ORANGE, borderWidth: 3, borderDash: dashed ? [6, 4] : [], pointRadius: 0, spanGaps: false, order: 0 },
          { type: 'line', data: curve, borderColor: GRAY, borderWidth: 3.5, pointRadius: 0, cubicInterpolationMode: 'monotone', order: 1 },
          { type: 'scatter', data: black, backgroundColor: BLACK, borderWidth: 0, pointRadius: 2, order: 2 },
          { type: 'scatter', data: green, backgroundColor: GREEN, borderWidth: 0, pointRadius: 2.3, order: 3 },
        ],
      },
      options: {
        animation: false,
        responsive: false,
        devicePixelRatio: 1,
        events: [],
        layout: { padding: { top: PAD, bottom: bottom ? 0 : PAD, left: 0, right: c.canvasLeft + c.canvasWidth - c.boxRight } },
        plugins: {
          legend: { display: false },
          tooltip: { enabled: false },
          panelDecor: { sensor: panel.sensor, tag, yLabels: panel.yLabels },
        },
        scales: {
          x: {
            type: 'linear',
            min: X_MIN,
            max: X_MAX,
            display: bottom,
            afterBuildTicks: (s) => { s.ticks = X_TICK_VALUES.map((v) => ({ value: v })); },
            afterFit: (s) => { s.height = XAXIS_H; },
            ticks: {
              color: '#000',
              font: { family: FONT, size: 17, weight: 'bold' },
              padding: 1,
              maxRotation: 0,
              autoSkip: false,
              callback: (_v, i) => X_TICK_LABELS[i],
            },
            grid: { display: true, drawOnChartArea: false, drawTicks: true, tickLength: 6, color: '#555' },
            border: { display: false },
          },
          y: {
            type: 'linear',
            min: panel.yMin,
            max: panel.yMax,
            afterBuildTicks: (s) => { s.ticks = panel.yTicks.map((v) => ({ value: v })); },
            afterFit: (s) => { s.width = c.boxLeft - c.canvasLeft; },
            ticks: { display: false },
            grid: { drawOnChartArea: false, drawTicks: true, tickLength: 6, color: '#555' },
            border: { display: false },
            title: {
              display: !!yTitle,
              text: yTitle || '',
              color: '#000',
              font: { family: FONT, size: 25, weight: 'bold' },
              padding: { top: 9, bottom: 0 },
            },
          },
        },
      },
      plugins: [panelDecor],
    });
    return () => chart.destroy();
  }, []);

  return (
    <canvas
      ref={ref}
      width={c.canvasWidth}
      height={height}
      style={{ position: 'absolute', left: c.canvasLeft, top, width: c.canvasWidth, height }}
    />
  );
}

export default function App() {
  return (
    <div style={{ position: 'absolute', left: 0, top: 0, width: 1208, height: 1349, background: '#fff', overflow: 'hidden' }}>
      {SITES.map((s) => {
        const c = COLS[s.col];
        const r = ROWS[s.row];
        return (
          <React.Fragment key={s.name}>
            <div style={{ position: 'absolute', left: c.titleX, top: r.titleY, transform: 'translate(-50%, -50%)', font: `bold 26px ${FONT}`, whiteSpace: 'nowrap', color: '#000' }}>{s.name}</div>
            {s.panels.map((p, i) => (
              <PanelChart
                key={s.name + i}
                panel={p}
                tag={`${s.letter}-${i + 1}`}
                col={s.col}
                box={r.boxes[i]}
                bottom={i === 2}
                yTitle={s.col === 0 ? (i === 0 ? 'GCC' : 'EVI2') : ''}
              />
            ))}
          </React.Fragment>
        );
      })}
      {COLS.map((c, ci) => YEARS.map((y, i) => (
        <div key={`${ci}-${y}`} style={{ position: 'absolute', left: c.boxLeft + ((YEAR_MONTHS[i] - X_MIN) / (X_MAX - X_MIN)) * (c.boxRight - c.boxLeft), top: YEAR_Y, transform: 'translate(-50%, -50%)', font: `italic bold 27px ${FONT}`, whiteSpace: 'nowrap', color: '#000' }}>{y}</div>
      )))}
    </div>
  );
}
